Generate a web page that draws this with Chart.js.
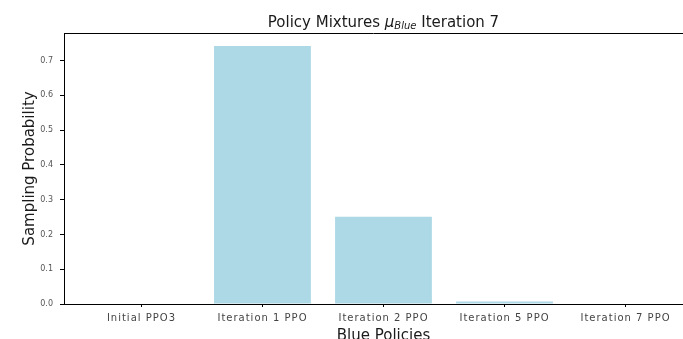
<!DOCTYPE html>
<html>
<head>
<meta charset="utf-8">
<script src="https://cdn.jsdelivr.net/npm/chart.js@4/dist/chart.umd.min.js"></script>
<style>
  html, body { margin: 0; padding: 0; background: #fff; overflow: hidden; }
  canvas { display: block; }
</style>
</head>
<body>
<canvas id="c" width="683" height="339"></canvas>
<script>
// Blue policy mixture (sampling probabilities) at iteration 7
const categories = ['Initial PPO3', 'Iteration 1 PPO', 'Iteration 2 PPO', 'Iteration 5 PPO', 'Iteration 7 PPO'];
const probabilities = [0.0, 0.742, 0.251, 0.007, 0.0];
const yTicks = [0.0, 0.1, 0.2, 0.3, 0.4, 0.5, 0.6, 0.7];

const FONT = "'DejaVu Sans', sans-serif";
const yMax = Math.max(...probabilities) * 1.05;
// x range: half-bar margin plus 5% padding; the right end runs past the canvas edge
const xMin = -0.64;
const xMax = 4.475;
const xFullMax = 4.64;

// Category labels are letter-spaced when the canvas supports it
const spacingOK = 'letterSpacing' in CanvasRenderingContext2D.prototype;
const xTickSize = spacingOK ? 10 : 11.5;

// The x tick labels and axis line sit on layer z = 1, drawn after the bars
const spacedXLabels = {
  id: 'spacedXLabels',
  afterDatasetsDraw(chart) { if (spacingOK) chart.ctx.letterSpacing = '1px'; },
  afterDraw(chart) { if (spacingOK) chart.ctx.letterSpacing = '0px'; }
};

// Title (italic subscripted mu), x axis title and the top frame line
const frameAndTitle = {
  id: 'frameAndTitle',
  afterDraw(chart) {
    const { ctx, chartArea, scales } = chart;
    ctx.save();
    if (spacingOK) ctx.letterSpacing = '0px';
    ctx.strokeStyle = '#000';
    ctx.lineWidth = 1;
    ctx.beginPath();
    ctx.moveTo(chartArea.left, Math.round(chartArea.top) + 0.5);
    ctx.lineTo(chartArea.right, Math.round(chartArea.top) + 0.5);
    ctx.stroke();

    const parts = [
      { text: 'Policy Mixtures ', font: `15px ${FONT}`, dy: 0 },
      { text: 'μ', font: `italic 15px ${FONT}`, dy: 0 },
      { text: 'Blue', font: `italic 10px ${FONT}`, dy: 2 },
      { text: ' Iteration 7', font: `15px ${FONT}`, dy: 0 }
    ];
    let total = 0;
    parts.forEach(p => { ctx.font = p.font; p.w = ctx.measureText(p.text).width; total += p.w; });
    const cx = (scales.x.getPixelForValue(xMin) + scales.x.getPixelForValue(xFullMax)) / 2;
    let x = cx - total / 2;
    const baseY = 27;
    ctx.fillStyle = '#1a1a1a';
    ctx.textBaseline = 'alphabetic';
    ctx.textAlign = 'left';
    parts.forEach(p => {
      ctx.font = p.font;
      ctx.fillText(p.text, x, baseY + p.dy);
      x += p.w;
    });

    // x axis title, centred on the full axis span
    ctx.font = `15px ${FONT}`;
    ctx.textAlign = 'center';
    ctx.fillText('Blue Policies', cx, 340);
    ctx.restore();
  }
};

new Chart(document.getElementById('c'), {
  type: 'bar',
  data: {
    datasets: [{
      data: probabilities.map((v, i) => ({ x: i, y: v })),
      backgroundColor: '#add8e6',
      borderWidth: 0,
      barPercentage: 0.8,
      categoryPercentage: 1.0
    }]
  },
  options: {
    responsive: false,
    animation: false,
    layout: { padding: { top: 33, right: 0, left: 0, bottom: 0 } },
    plugins: {
      legend: { display: false },
      title: { display: false },
      tooltip: { enabled: false }
    },
    scales: {
      x: {
        type: 'linear',
        offset: false,
        min: xMin,
        max: xMax,
        afterBuildTicks: (scale) => { scale.ticks = categories.map((_, i) => ({ value: i })); },
        afterFit: (scale) => { scale.height = 35; },
        grid: { display: true, drawOnChartArea: false, offset: false, tickLength: 3, color: '#000', tickWidth: 1, z: 1 },
        border: { display: true, color: '#000', width: 1, z: 1 },
        ticks: {
          z: 1,
          autoSkip: false,
          maxRotation: 0,
          padding: 5,
          color: '#444',
          font: { family: FONT, size: xTickSize },
          callback: (v) => categories[v]
        },
        title: { display: false }
      },
      y: {
        min: 0,
        max: yMax,
        afterBuildTicks: (scale) => { scale.ticks = yTicks.map(v => ({ value: v })); },
        afterFit: (scale) => { scale.width = 64; },
        grid: { display: true, drawOnChartArea: false, tickLength: 4, color: '#000', tickWidth: 1 },
        border: { display: true, color: '#000', width: 1 },
        ticks: {
          padding: 7,
          color: '#555',
          font: { family: FONT, size: 8 },
          callback: (v) => Number(v).toFixed(1)
        },
        title: {
          display: true,
          text: 'Sampling Probability',
          color: '#1a1a1a',
          font: { family: FONT, size: 15 },
          padding: { top: 21, bottom: 0 }
        }
      }
    }
  },
  plugins: [spacedXLabels, frameAndTitle]
});
</script>
</body>
</html>
